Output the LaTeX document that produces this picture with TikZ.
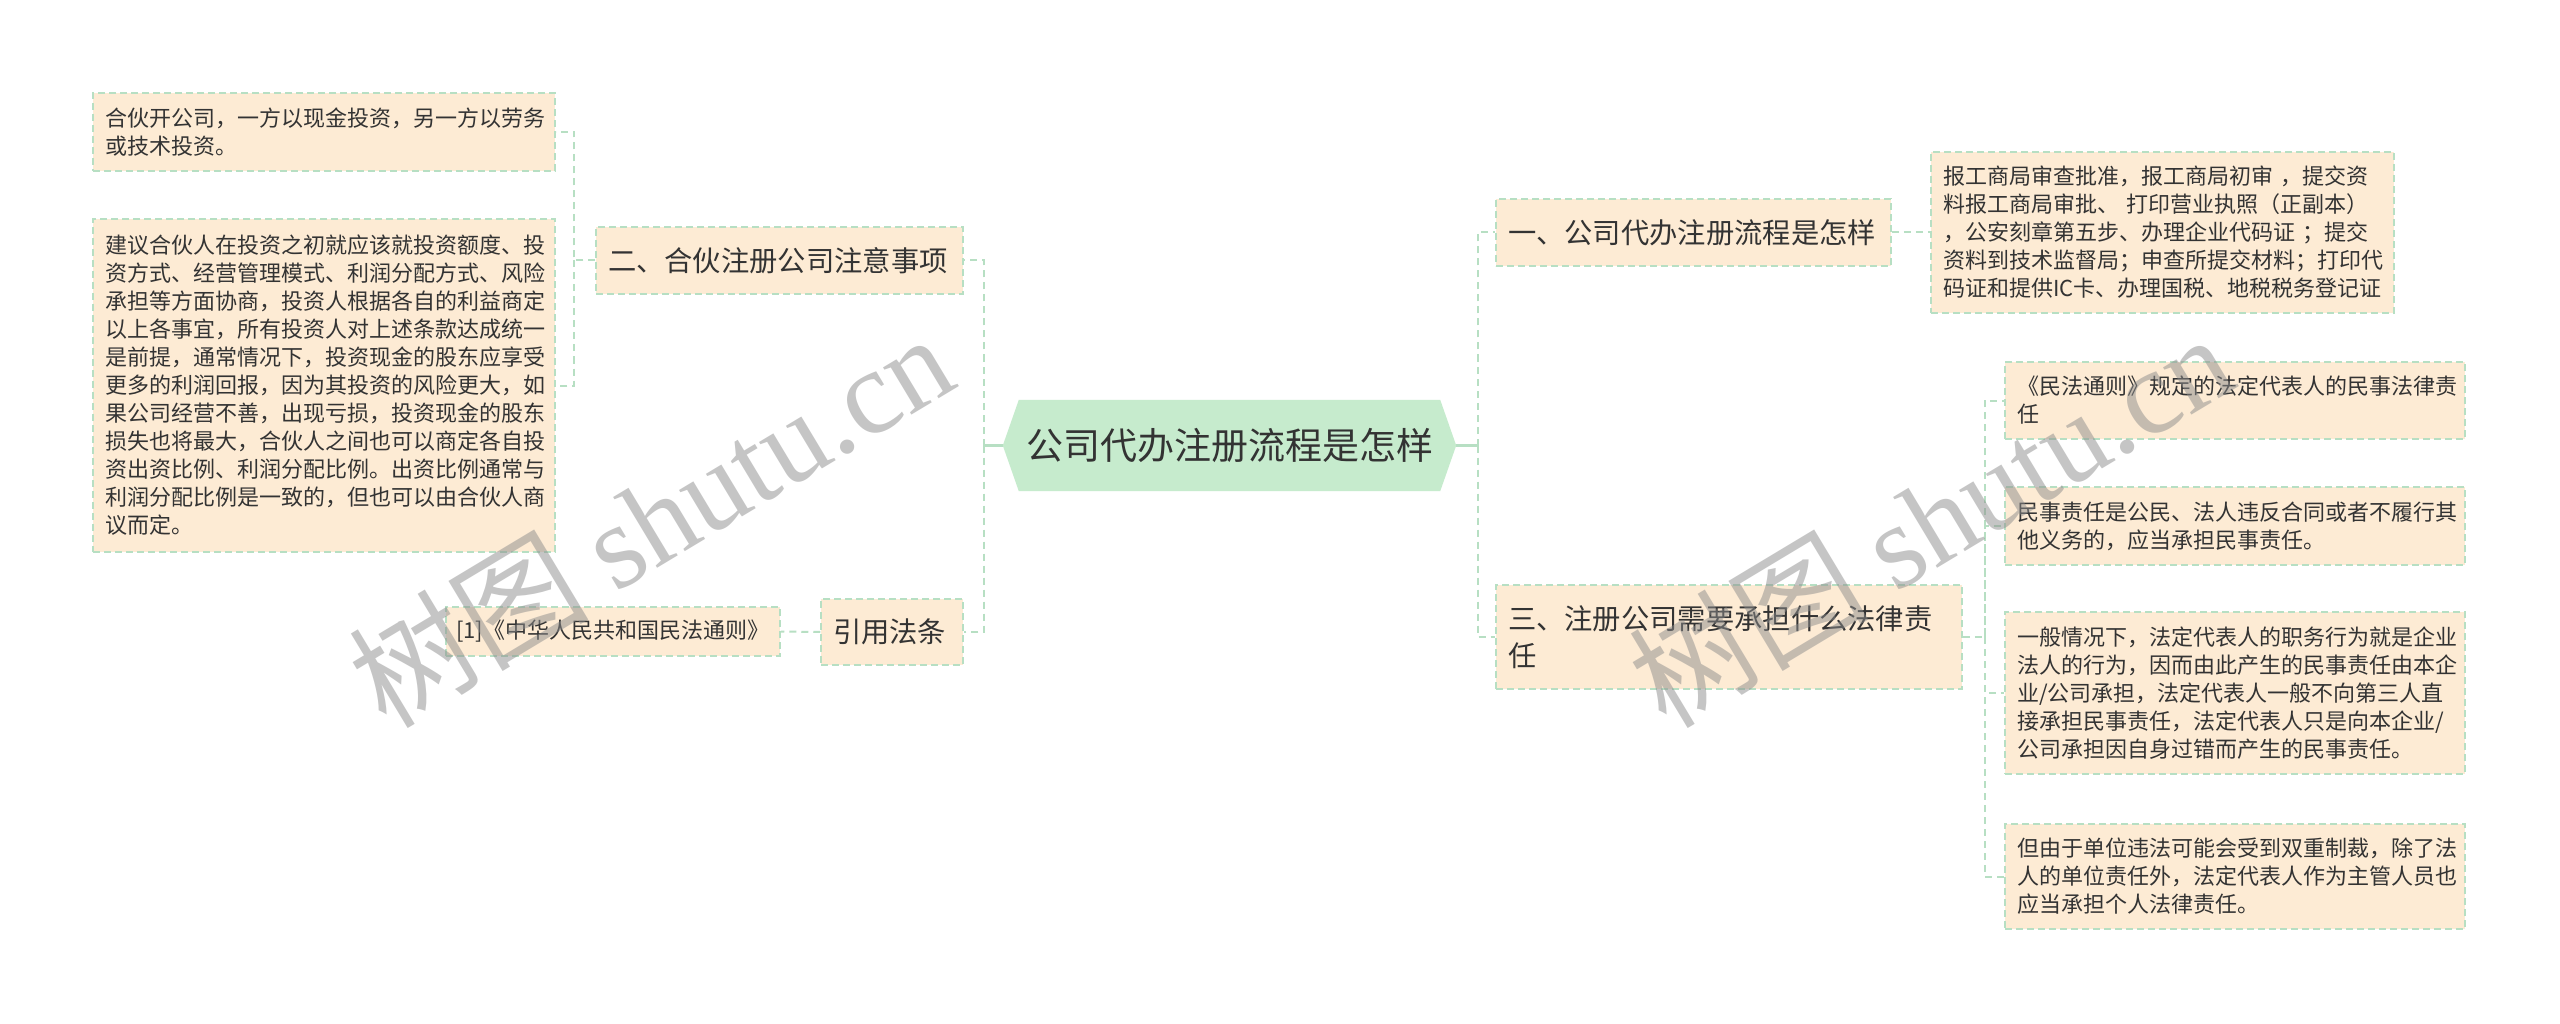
\documentclass[tikz,border=0pt]{standalone}
\usepackage{fontspec}
\setmainfont{Noto Sans CJK SC}
\newfontfamily\wmlatin{Liberation Serif}
\usetikzlibrary{backgrounds}
\definecolor{lineg}{HTML}{B7DFC3}
\definecolor{peach}{HTML}{FDEBD4}
\definecolor{rootg}{HTML}{C6EBCD}
\definecolor{txt}{HTML}{333333}
\definecolor{wmgray}{HTML}{8C8C8C}
\begin{document}
\begin{tikzpicture}[x=1pt,y=-1pt,
  conn/.style={draw=lineg, line width=2pt, dash pattern=on 7pt off 5pt},
  stub/.style={draw=lineg, line width=3pt},
  peachbox/.style={draw=lineg, line width=1.5pt, dash pattern=on 7pt off 4pt, fill=peach, text=txt, inner xsep=12pt, inner ysep=0pt, align=left, anchor=center},
  leaf/.style={peachbox, font=\fontsize{22}{28}\selectfont},
  topic/.style={peachbox, font=\fontsize{28.3}{37}\selectfont},
  rootnode/.style={minimum width=421pt, minimum height=91pt, inner sep=0pt, text=txt, font=\fontsize{37}{44}\selectfont},
  wm/.style={text=wmgray, text opacity=0.5, rotate=31, inner sep=0pt, font=\fontsize{120}{130}\selectfont}
]
\useasboundingbox (0,0) rectangle (2560,1024);

% root
\node[rootnode] (root) at (1229.5,445.5) {公司代办注册流程是怎样};
\begin{scope}[on background layer]
\fill[white] (0,0) rectangle (2560,1024);
\fill[rootg] ([xshift=-16pt]root.west) -- (root.north west) -- (root.north east) -- ([xshift=16pt]root.east) -- (root.south east) -- (root.south west) -- cycle;
\end{scope}

% left topics
\node[topic, text width=343pt, minimum height=67pt] (n2) at (779.5,260.5) {二、合伙注册公司注意事项};
\node[topic, text width=118pt, minimum height=66pt] (ncite) at (892,632) {引用法条};

% left leaves
\node[leaf, text width=438pt, minimum height=78pt] (L1) at (324,132) {合伙开公司，一方以现金投资，另一方以劳务\\或技术投资。};
\node[leaf, text width=438pt, minimum height=333pt] (L2) at (324,385.5) {建议合伙人在投资之初就应该就投资额度、投\\资方式、经营管理模式、利润分配方式、风险\\承担等方面协商，投资人根据各自的利益商定\\以上各事宜，所有投资人对上述条款达成统一\\是前提，通常情况下，投资现金的股东应享受\\更多的利润回报，因为其投资的风险更大，如\\果公司经营不善，出现亏损，投资现金的股东\\损失也将最大，合伙人之间也可以商定各自投\\资出资比例、利润分配比例。出资比例通常与\\利润分配比例是一致的，但也可以由合伙人商\\议而定。};
\node[leaf, inner xsep=10pt, text width=314pt, minimum height=49pt] (Lcite) at (613,631.5) {[1]《中华人民共和国民法通则》};

% right topics
\node[topic, text width=371pt, minimum height=67pt] (n1) at (1693.5,232.5) {一、公司代办注册流程是怎样};
\node[topic, text width=442pt, minimum height=104pt] (n3) at (1729,637) {三、注册公司需要承担什么法律责\\任};

% right leaves
\node[leaf, text width=439pt, minimum height=161pt] (R1) at (2162.5,232.5) {报工商局审查批准，报工商局初审 ，提交资\\料报工商局审批、 打印营业执照（正副本）\\，公安刻章第五步、办理企业代码证 ；提交\\资料到技术监督局；申查所提交材料；打印代\\码证和提供IC卡、办理国税、地税税务登记证};
\node[leaf, text width=436pt, minimum height=77pt] (R2) at (2235,400.5) {《民法通则》规定的法定代表人的民事法律责\\任};
\node[leaf, text width=436pt, minimum height=78pt] (R3) at (2235,526) {民事责任是公民、法人违反合同或者不履行其\\他义务的，应当承担民事责任。};
\node[leaf, text width=436pt, minimum height=162pt] (R4) at (2235,693) {一般情况下，法定代表人的职务行为就是企业\\法人的行为，因而由此产生的民事责任由本企\\业/公司承担，法定代表人一般不向第三人直\\接承担民事责任，法定代表人只是向本企业/\\公司承担因自身过错而产生的民事责任。};
\node[leaf, text width=436pt, minimum height=105pt] (R5) at (2235,876.5) {但由于单位违法可能会受到双重制裁，除了法\\人的单位责任外，法定代表人作为主管人员也\\应当承担个人法律责任。};

% connectors
\coordinate (rootL) at ([xshift=-16pt]root.west);
\coordinate (rootR) at ([xshift=16pt]root.east);
\draw[stub] (rootL) -- ++(-19,0) coordinate (trunkL);
\draw[conn] (trunkL) |- (n2.east);
\draw[conn] (trunkL) |- (ncite.east);
\draw[stub] (rootR) -- ++(22,0) coordinate (trunkR);
\draw[conn] (trunkR) |- (n1.west);
\draw[conn] (trunkR) |- (n3.west);

\draw[conn] (n2.west) -- ++(-21,0) coordinate (t2) |- (L1.east);
\draw[conn] (t2) |- (L2.east);
\draw[conn] (ncite.west) -- (Lcite.east);

\draw[conn] (n1.east) -- (R1.west);
\draw[conn] (n3.east) -- ++(22,0) coordinate (t3) |- (R2.west);
\draw[conn] (t3) |- (R3.west);
\draw[conn] (t3) |- (R4.west);
\draw[conn] (t3) |- (R5.west);

% watermarks
\node[wm] (wm1) at (650,519) {树图 {\wmlatin shutu.cn}};
\node[wm] (wm2) at (1930,519) {树图 {\wmlatin shutu.cn}};
\end{tikzpicture}
\end{document}
